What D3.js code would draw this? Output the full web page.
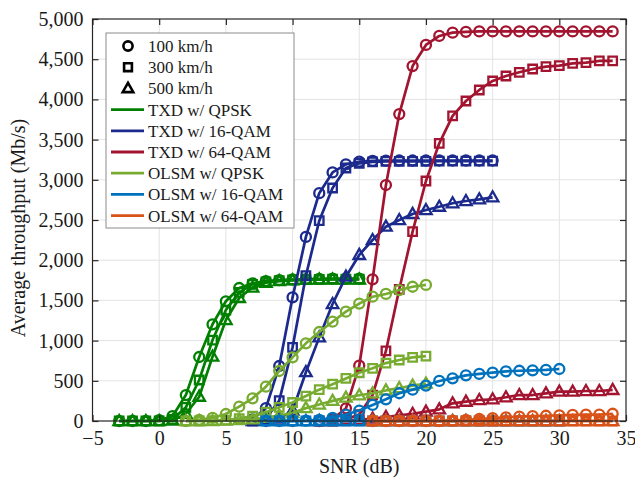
<!DOCTYPE html>
<html lang="en">

<head>
    <meta charset="UTF-8">
    <title>Average throughput vs SNR</title>
    <script src="https://d3js.org/d3.v7.min.js"></script>
    <style>
        body,
        html {
            margin: 0;
            padding: 0;
            background: #fff;
        }

        text {
            font-family: "Liberation Serif", "Times New Roman", serif;
            fill: #1a1a1a;
        }

        .tick text {
            font-size: 20px;
        }

        .grid line {
            stroke: #e3e3e3;
            stroke-width: 1;
        }
    </style>
</head>

<body>
    <svg width="635" height="478" id="chart"></svg>

    <script>
        // SNR sample points (dB) for each scheme
        const snrTxdQpsk = [-3, -2, -1, 0, 1, 2, 3, 4, 5, 6, 7, 8, 9, 10, 11, 12, 13, 14, 15];
        const snrTxd16 = [7, 8, 9, 10, 11, 12, 13, 14, 15, 16, 17, 18, 19, 20, 21, 22, 23, 24, 25];
        const snrTxd64 = [12, 13, 14, 15, 16, 17, 18, 19, 20, 21, 22, 23, 24, 25, 26, 27, 28, 29, 30, 31, 32, 33, 34];
        const snrOlsmQpsk = [2, 3, 4, 5, 6, 7, 8, 9, 10, 11, 12, 13, 14, 15, 16, 17, 18, 19, 20];
        const snrOlsm16 = [8, 9, 10, 11, 12, 13, 14, 15, 16, 17, 18, 19, 20, 21, 22, 23, 24, 25, 26, 27, 28, 29, 30];
        const snrOlsm64 = [16, 17, 18, 19, 20, 21, 22, 23, 24, 25, 26, 27, 28, 29, 30, 31, 32, 33, 34];

        // throughput (Mb/s), one array per scheme and speed
        const txdQpsk100 = [0, 0, 0, 10, 60, 323, 796, 1203, 1489, 1654, 1712, 1740, 1752, 1760, 1765, 1768, 1770, 1770, 1770];
        const txdQpsk300 = [0, 0, 0, 0, 20, 170, 510, 1007, 1380, 1600, 1700, 1730, 1745, 1755, 1760, 1762, 1765, 1765, 1765];
        const txdQpsk500 = [0, 0, 0, 0, 5, 90, 302, 800, 1256, 1530, 1660, 1720, 1740, 1750, 1755, 1758, 1760, 1760, 1760];

        const txd16q100 = [20, 160, 684, 1538, 2290, 2834, 3092, 3192, 3225, 3235, 3238, 3240, 3240, 3240, 3240, 3240, 3240, 3240, 3240];
        const txd16q300 = [0, 30, 253, 916, 1807, 2491, 2898, 3147, 3205, 3222, 3228, 3230, 3230, 3230, 3232, 3232, 3232, 3232, 3232];
        const txd16q500 = [0, 5, 30, 130, 607, 1040, 1455, 1795, 2065, 2251, 2417, 2500, 2575, 2624, 2665, 2708, 2736, 2757, 2782];

        const txd64q100 = [0, 20, 158, 688, 1762, 2935, 3818, 4415, 4677, 4789, 4830, 4840, 4845, 4845, 4845, 4845, 4845, 4845, 4845, 4845, 4845, 4845, 4845];
        const txd64q300 = [0, 0, 20, 80, 323, 871, 1638, 2355, 2985, 3454, 3794, 3980, 4117, 4229, 4291, 4337, 4378, 4407, 4420, 4449, 4457, 4478, 4478];
        const txd64q500 = [0, 0, 5, 15, 30, 50, 70, 90, 116, 145, 220, 240, 261, 270, 295, 323, 323, 344, 365, 365, 373, 373, 386];

        const olsmQpsk100 = [0, 15, 40, 87, 178, 282, 427, 622, 792, 966, 1107, 1235, 1360, 1460, 1546, 1580, 1629, 1670, 1692];
        const olsmQpsk300 = [0, 0, 5, 10, 30, 60, 110, 170, 230, 310, 390, 458, 530, 600, 655, 720, 759, 792, 808];
        const olsmQpsk500 = [0, 0, 0, 5, 10, 20, 40, 70, 100, 160, 205, 250, 290, 320, 345, 380, 410, 440, 465];

        const olsm16q100 = [0, 0, 0, 5, 15, 40, 80, 130, 200, 270, 345, 390, 440, 498, 531, 568, 585, 601, 618, 625, 630, 635, 647];
        const olsm16q300 = [0, 0, 0, 0, 0, 0, 0, 0, 0, 0, 0, 0, 0, 0, 0, 0, 0, 0, 0, 0, 0, 0, 0];
        const olsm16q500 = [0, 0, 0, 0, 0, 0, 0, 0, 0, 0, 0, 0, 0, 0, 0, 0, 0, 0, 0, 0, 0, 0, 0];

        const olsm64q100 = [0, 0, 0, 0, 0, 0, 5, 15, 25, 35, 45, 55, 60, 65, 70, 75, 80, 80, 90];
        const olsm64q300 = [0, 0, 0, 0, 0, 0, 0, 0, 0, 0, 0, 0, 0, 0, 0, 0, 0, 0, 0];
        const olsm64q500 = [0, 0, 0, 0, 0, 0, 0, 0, 0, 0, 0, 0, 0, 0, 0, 0, 0, 0, 0];

        const schemeNames = ["TXD w/ QPSK", "TXD w/ 16-QAM", "TXD w/ 64-QAM",
            "OLSM w/ QPSK", "OLSM w/ 16-QAM", "OLSM w/ 64-QAM"];
        const schemeColors = ["#007f00", "#1b2a8c", "#a2142f", "#77ac30", "#0072bd", "#d95319"];
        const speedNames = ["100 km/h", "300 km/h", "500 km/h"];
        const speedMarkers = ["circle", "square", "triangle"];

        const xTicks = [-5, 0, 5, 10, 15, 20, 25, 30, 35];
        const yTicks = [0, 500, 1000, 1500, 2000, 2500, 3000, 3500, 4000, 4500, 5000];

        const schemes = [
            { snr: snrTxdQpsk, runs: [txdQpsk100, txdQpsk300, txdQpsk500] },
            { snr: snrTxd16, runs: [txd16q100, txd16q300, txd16q500] },
            { snr: snrTxd64, runs: [txd64q100, txd64q300, txd64q500] },
            { snr: snrOlsmQpsk, runs: [olsmQpsk100, olsmQpsk300, olsmQpsk500] },
            { snr: snrOlsm16, runs: [olsm16q100, olsm16q300, olsm16q500] },
            { snr: snrOlsm64, runs: [olsm64q100, olsm64q300, olsm64q500] }
        ];

        const svg = d3.select("#chart");
        const pLeft = 92.5, pRight = 626, pTop = 19, pBottom = 421;

        const x = d3.scaleLinear().domain([-5, 35]).range([pLeft, pRight]);
        const y = d3.scaleLinear().domain([0, 5000]).range([pBottom, pTop]);

        // grid
        const grid = svg.append("g").attr("class", "grid");
        grid.selectAll(".gx")
            .data(xTicks.slice(1, -1))
            .enter().append("line")
            .attr("x1", d => x(d)).attr("x2", d => x(d))
            .attr("y1", pTop).attr("y2", pBottom);
        grid.selectAll(".gy")
            .data(yTicks.slice(1, -1))
            .enter().append("line")
            .attr("x1", pLeft).attr("x2", pRight)
            .attr("y1", d => y(d)).attr("y2", d => y(d));

        // marker path centred at 0,0
        function markerPath(type, s) {
            if (type === "circle") {
                const r = s;
                return `M${-r},0A${r},${r} 0 1,0 ${r},0A${r},${r} 0 1,0 ${-r},0Z`;
            }
            if (type === "square") {
                const h = s * 0.85;
                return `M${-h},${-h}H${h}V${h}H${-h}Z`;
            }
            const w = s * 1.15;
            return `M0,${-w * 1.05}L${w},${w * 0.7}L${-w},${w * 0.7}Z`;
        }

        const line = d3.line().x(d => x(d[0])).y(d => y(d[1]));

        // curves
        schemes.forEach((sc, si) => {
            const g = svg.append("g");
            sc.runs.forEach((vals, ri) => {
                const pts = sc.snr.map((s, i) => [s, vals[i]]);
                g.append("path")
                    .attr("d", line(pts))
                    .attr("fill", "none")
                    .attr("stroke", schemeColors[si])
                    .attr("stroke-width", 2.7)
                    .attr("stroke-linejoin", "round");
                g.selectAll(null)
                    .data(pts)
                    .enter().append("path")
                    .attr("transform", d => `translate(${x(d[0])},${y(d[1])})`)
                    .attr("d", markerPath(speedMarkers[ri], 5))
                    .attr("fill", "none")
                    .attr("stroke", schemeColors[si])
                    .attr("stroke-width", 2.3);
            });
        });

        // axes (ticks point inward, box all round)
        const xAxis = d3.axisBottom(x).tickValues(xTicks).tickSize(-6).tickPadding(10)
            .tickFormat(d => d < 0 ? "\u2212" + Math.abs(d) : d);
        const yAxis = d3.axisLeft(y).tickValues(yTicks).tickSize(-6).tickPadding(9)
            .tickFormat(d3.format(","));

        const gx = svg.append("g").attr("transform", `translate(0,${pBottom})`).call(xAxis);
        const gy = svg.append("g").attr("transform", `translate(${pLeft},0)`).call(yAxis);
        const gxt = svg.append("g").attr("transform", `translate(0,${pTop})`)
            .call(d3.axisTop(x).tickValues(xTicks).tickSize(-6).tickFormat(""));
        const gyr = svg.append("g").attr("transform", `translate(${pRight},0)`)
            .call(d3.axisRight(y).tickValues(yTicks).tickSize(-6).tickFormat(""));

        [gx, gy, gxt, gyr].forEach(g => {
            g.select(".domain").remove();
            g.selectAll(".tick line").attr("stroke", "#262626").attr("stroke-width", 1.2);
        });

        svg.append("rect")
            .attr("x", pLeft).attr("y", pTop)
            .attr("width", pRight - pLeft).attr("height", pBottom - pTop)
            .attr("fill", "none").attr("stroke", "#262626").attr("stroke-width", 1.2);

        // axis titles
        svg.append("text")
            .attr("x", (pLeft + pRight) / 2).attr("y", 473)
            .attr("text-anchor", "middle")
            .style("font-size", "20px")
            .text("SNR (dB)");
        svg.append("text")
            .attr("transform", `translate(25,${(pTop + pBottom) / 2 + 8}) rotate(-90)`)
            .attr("text-anchor", "middle")
            .style("font-size", "20px")
            .text("Average throughput (Mb/s)");

        // legend
        const legend = svg.append("g").attr("transform", "translate(106,33)");
        legend.append("rect")
            .attr("width", 188).attr("height", 195)
            .attr("fill", "#fff").attr("stroke", "#8c8c8c").attr("stroke-width", 1);

        const rowY = i => 13 + i * 21.2;
        const legendRows = speedNames.map((n, i) => ({ name: n, marker: speedMarkers[i] }))
            .concat(schemeNames.map((n, i) => ({ name: n, color: schemeColors[i] })));

        const row = legend.selectAll(".row")
            .data(legendRows)
            .enter().append("g")
            .attr("transform", (d, i) => `translate(0,${rowY(i)})`);

        row.filter(d => d.marker)
            .append("path")
            .attr("transform", "translate(22,0)")
            .attr("d", d => markerPath(d.marker, 4.6))
            .attr("fill", "none")
            .attr("stroke", "#000")
            .attr("stroke-width", 2.6);

        row.filter(d => d.color)
            .append("line")
            .attr("x1", 5).attr("x2", 38)
            .attr("stroke", d => d.color)
            .attr("stroke-width", 2.8);

        row.append("text")
            .attr("x", 42).attr("dy", "0.35em")
            .style("font-size", "17px")
            .text(d => d.name);
    </script>
</body>

</html>
